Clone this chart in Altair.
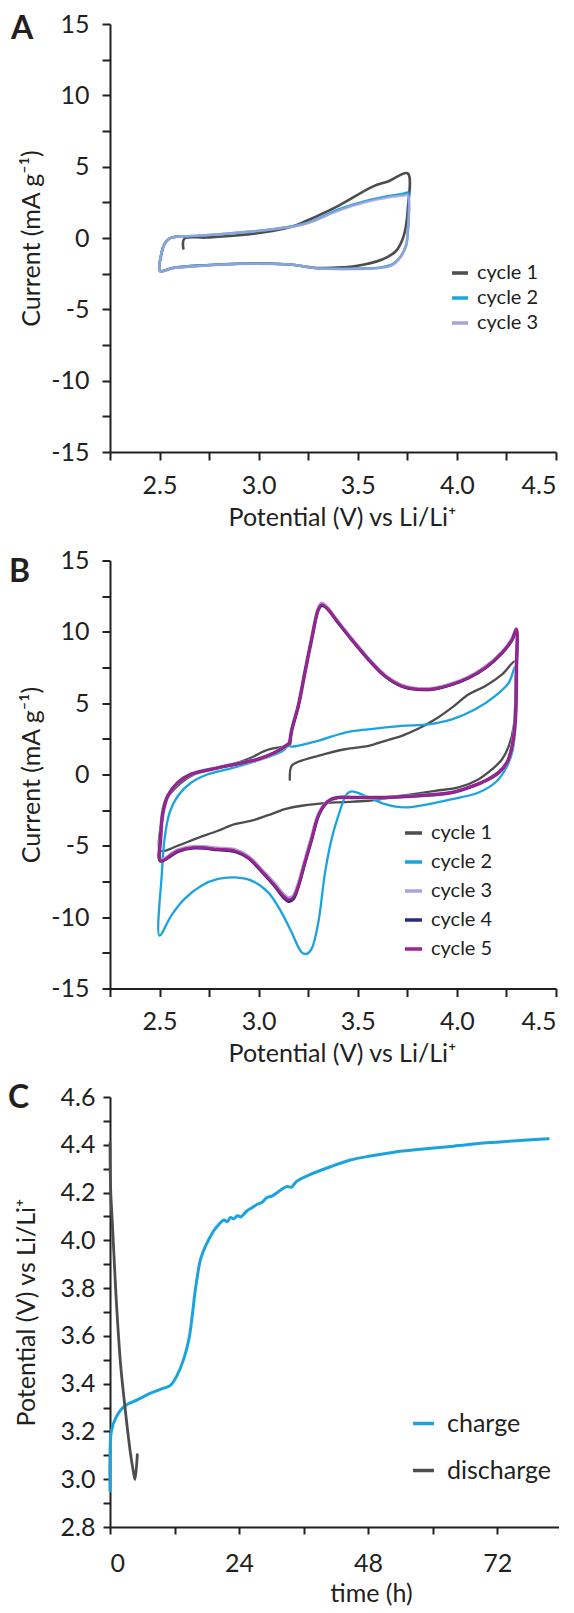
import altair as alt
import pandas as pd

# ---------------- Panel A : CV, 3 cycles ----------------
a_names = ["cycle 1", "cycle 2", "cycle 3"]
a1_v = [2.62, 2.625, 2.735, 2.90, 3.07, 3.17, 3.239, 3.407, 3.575, 3.659,
        3.752, 3.752, 3.743, 3.726, 3.693, 3.626, 3.491, 3.374, 3.29, 3.239,
        3.172, 3.071, 2.902, 2.734, 2.566, 2.502, 2.507, 2.524, 2.549, 2.60]
a1_i = [-0.74, -0.04, 0.03, 0.19, 0.49, 0.80, 1.19, 2.29, 3.60, 4.00,
        4.53, 2.0, 0.84, -0.09, -0.91, -1.49, -1.96, -2.08, -2.10, -2.01,
        -1.87, -1.80, -1.80, -1.91, -2.10, -2.31, -1.26, -0.44, -0.04, 0.10]
a2_v = [2.60, 2.734, 2.902, 3.07, 3.239, 3.407, 3.542, 3.659, 3.735, 3.752,
        3.752, 3.743, 3.718, 3.676, 3.609, 3.491, 3.374, 3.29, 3.239, 3.172,
        3.071, 2.902, 2.734, 2.566, 2.502, 2.507, 2.524, 2.549, 2.60]
a2_i = [0.10, 0.19, 0.38, 0.61, 1.03, 2.01, 2.59, 2.94, 3.11, 3.18,
        0.38, -0.56, -1.26, -1.84, -2.08, -2.15, -2.15, -2.12, -2.01, -1.87,
        -1.80, -1.80, -1.91, -2.10, -2.31, -1.26, -0.44, -0.04, 0.10]
a3_v = [2.60, 2.734, 2.902, 3.07, 3.239, 3.407, 3.542, 3.659, 3.735, 3.752,
        3.752, 3.743, 3.718, 3.676, 3.609, 3.491, 3.374, 3.29, 3.239, 3.172,
        3.071, 2.902, 2.734, 2.566, 2.502, 2.507, 2.524, 2.549, 2.60]
a3_i = [0.10, 0.19, 0.38, 0.61, 1.00, 1.95, 2.52, 2.85, 2.98, 3.00,
        0.38, -0.56, -1.30, -1.88, -2.10, -2.17, -2.17, -2.12, -2.01, -1.87,
        -1.82, -1.82, -1.93, -2.12, -2.33, -1.26, -0.44, -0.04, 0.10]

# ---------------- Panel B : CV, 5 cycles ----------------
b_names = ["cycle 1", "cycle 2", "cycle 3", "cycle 4", "cycle 5"]
b1_v = [3.157, 3.166, 3.20, 3.30, 3.436, 3.554, 3.638, 3.722, 3.807, 3.891,
        3.975, 4.06, 4.144, 4.228, 4.295, 4.296, 4.287, 4.262, 4.228, 4.178,
        4.11, 4.009, 3.891, 3.722, 3.554, 3.385, 3.217, 3.132, 3.048, 2.964,
        2.879, 2.795, 2.677, 2.593, 2.505, 2.508, 2.525, 2.559, 2.61, 2.677,
        2.795, 2.896, 2.964, 3.031, 3.099, 3.157]
b1_i = [-0.37, 0.61, 0.89, 1.31, 1.77, 2.0, 2.36, 2.71, 3.22, 3.87,
        4.69, 5.62, 6.2, 7.02, 7.95, 6.44, 3.4, 2.0, 1.07, 0.37,
        -0.33, -0.91, -1.14, -1.49, -1.84, -1.96, -2.19, -2.43, -2.85, -3.24,
        -3.48, -3.94, -4.53, -4.99, -5.34, -3.36, -1.96, -1.26, -0.56, 0.02,
        0.49, 0.84, 1.19, 1.66, 1.89, 2.0]
b2_v = [3.157, 3.166, 3.30, 3.436, 3.554, 3.722, 3.857, 3.975, 4.093, 4.194,
        4.262, 4.295, 4.298, 4.295, 4.279, 4.245, 4.194, 4.11, 3.975, 3.857,
        3.739, 3.638, 3.537, 3.469, 3.444, 3.402, 3.368, 3.335, 3.301, 3.267,
        3.242, 3.217, 3.166, 3.115, 3.048, 2.964, 2.879, 2.795, 2.711, 2.626,
        2.559, 2.50, 2.512, 2.525, 2.551, 2.593, 2.66, 2.744, 2.846, 2.964,
        3.065, 3.132, 3.157]
b2_i = [2.0, 1.96, 2.36, 2.94, 3.17, 3.41, 3.52, 3.87, 4.57, 5.51,
        6.44, 7.6, 5.97, 3.4, 1.54, 0.37, -0.56, -1.26, -1.73, -2.08,
        -2.31, -2.08, -1.49, -1.19, -1.38, -2.89, -4.53, -6.86, -10.36, -12.22,
        -12.57, -12.46, -11.06, -9.66, -8.26, -7.44, -7.21, -7.32, -7.79, -8.72,
        -9.89, -11.29, -6.86, -4.53, -2.66, -1.49, -0.56, 0.02, 0.37, 0.84,
        1.31, 1.77, 2.52]
b345_v = [3.157, 3.166, 3.20, 3.233, 3.267, 3.301, 3.318, 3.343, 3.402, 3.469,
          3.554, 3.638, 3.722, 3.807, 3.891, 3.975, 4.06, 4.144, 4.228, 4.279,
          4.30, 4.30, 4.295, 4.279, 4.253, 4.211, 4.144, 4.06, 3.975, 3.807,
          3.638, 3.469, 3.402, 3.368, 3.335, 3.301, 3.267, 3.233, 3.20, 3.174,
          3.152, 3.124, 3.082, 3.014, 2.947, 2.879, 2.795, 2.677, 2.593, 2.505,
          2.505, 2.517, 2.542, 2.593, 2.66, 2.761, 2.879, 2.997, 3.082, 3.157]
b3_i = [2.19, 3.06, 4.81, 7.14, 9.47, 11.6, 11.98, 11.72, 10.66, 9.5,
        8.1, 6.93, 6.23, 6.0, 6.05, 6.35, 6.82, 7.52, 8.56, 9.5,
        10.2, 7.14, 3.87, 2.0, 0.84, 0.14, -0.44, -0.91, -1.26, -1.49,
        -1.61, -1.61, -1.61, -1.73, -2.08, -2.85, -4.45, -6.1, -7.7, -8.55,
        -8.68, -8.4, -7.7, -6.68, -5.75, -5.28, -5.18, -5.06, -5.3, -6.0,
        -4.53, -2.66, -1.49, -0.56, 0.02, 0.37, 0.72, 1.07, 1.54, 2.19]
b4_i = [2.19, 3.06, 4.81, 7.14, 9.47, 11.55, 11.85, 11.66, 10.62, 9.45,
        8.05, 6.88, 6.18, 5.95, 6.0, 6.3, 6.77, 7.47, 8.52, 9.45,
        10.15, 7.14, 3.87, 2.0, 0.84, 0.14, -0.44, -0.91, -1.26, -1.49,
        -1.61, -1.61, -1.61, -1.73, -2.08, -2.92, -4.6, -6.22, -7.88, -8.75,
        -8.9, -8.6, -7.85, -6.8, -5.86, -5.4, -5.28, -5.16, -5.4, -6.08,
        -4.53, -2.66, -1.49, -0.56, 0.02, 0.37, 0.72, 1.07, 1.54, 2.19]
b5_i = [2.19, 3.06, 4.81, 7.14, 9.47, 11.57, 11.92, 11.69, 10.64, 9.47,
        8.07, 6.9, 6.2, 5.97, 6.02, 6.32, 6.79, 7.49, 8.54, 9.47,
        10.17, 7.14, 3.87, 2.0, 0.84, 0.14, -0.44, -0.91, -1.26, -1.49,
        -1.61, -1.61, -1.61, -1.73, -2.08, -2.89, -4.53, -6.16, -7.79, -8.61,
        -8.77, -8.49, -7.79, -6.74, -5.81, -5.34, -5.23, -5.11, -5.34, -6.04,
        -4.53, -2.66, -1.49, -0.56, 0.02, 0.37, 0.72, 1.07, 1.54, 2.19]

# ---------------- Panel C : galvanostatic charge / discharge ----------------
c_names = ["charge", "discharge"]
charge_t = [0, 0.0, 0.25, 1.05, 2.6, 5.08, 7.56, 10.0, 11.3, 12.5,
            13.75, 14.7, 15.3, 15.9, 16.85, 17.8, 19.3, 20.0, 20.6, 21.2,
            21.8, 22.4, 23.0, 23.7, 24.3, 25.5, 26.3, 27.4, 28.2, 29.2,
            30.1, 31.1, 32.0, 33.0, 33.7, 34.8, 37.3, 41.0, 44.7, 48.4,
            52.8, 57.7, 63.9, 70.1, 76.3, 81.5]
charge_v = [2.95, 3.10, 3.20, 3.256, 3.304, 3.332, 3.36, 3.381, 3.394, 3.436,
            3.506, 3.589, 3.686, 3.797, 3.922, 3.978, 4.04, 4.06, 4.075, 4.085,
            4.078, 4.096, 4.09, 4.103, 4.098, 4.124, 4.135, 4.151, 4.158, 4.179,
            4.185, 4.20, 4.215, 4.225, 4.222, 4.249, 4.276, 4.308, 4.336, 4.353,
            4.369, 4.381, 4.394, 4.408, 4.418, 4.425]
discharge_t = [0, 0.12, 0.43, 0.74, 1.05, 1.49, 1.98, 2.6, 3.22, 3.84, 4.34, 4.65, 5.08]
discharge_v = [4.408, 4.214, 4.075, 3.936, 3.797, 3.631, 3.478, 3.339, 3.214, 3.103, 3.033, 2.999, 3.103]

# axis tick positions / labels
cv_x_ticks = [2.25, 2.5, 2.75, 3.0, 3.25, 3.5, 3.75, 4.0, 4.25, 4.5]
cv_y_ticks = [-15, -12.5, -10, -7.5, -5, -2.5, 0, 2.5, 5, 7.5, 10, 12.5, 15]
c_x_ticks = [0, 12, 24, 36, 48, 60, 72]
c_y_ticks = [2.8, 2.9, 3.0, 3.1, 3.2, 3.3, 3.4, 3.5, 3.6, 3.7, 3.8, 3.9,
             4.0, 4.1, 4.2, 4.3, 4.4, 4.5, 4.6]

FONT = "Lato"
INK = "#231f20"
GREY = "#4d4d4f"
BLUE = "#1ba3e0"
LAV = "#aaa3d8"
NAVY = "#2b2a7e"
MAG = "#a1228d"
FS = 25


def frame(xs, ys, name, xcol, ycol):
    return pd.DataFrame({xcol: xs, ycol: ys, "series": name, "idx": list(range(len(xs)))})


dfA = pd.concat([frame(a1_v, a1_i, "cycle 1", "v", "i"),
                 frame(a2_v, a2_i, "cycle 2", "v", "i"),
                 frame(a3_v, a3_i, "cycle 3", "v", "i")])
dfB = pd.concat([frame(b1_v, b1_i, "cycle 1", "v", "i"),
                 frame(b2_v, b2_i, "cycle 2", "v", "i"),
                 frame(b345_v, b3_i, "cycle 3", "v", "i"),
                 frame(b345_v, b4_i, "cycle 4", "v", "i"),
                 frame(b345_v, b5_i, "cycle 5", "v", "i")])
dfC = pd.concat([frame(charge_t, charge_v, "charge", "t", "p"),
                 frame(discharge_t, discharge_v, "discharge", "t", "p")])


def cv_axes():
    x = alt.X("v:Q", scale=alt.Scale(domain=[2.25, 4.5], nice=False, zero=False),
              axis=alt.Axis(values=cv_x_ticks, title="Potential (V) vs Li/Li⁺",
                            labelExpr="(datum.value * 2) % 1 == 0 ? format(datum.value, '.1f') : ''",
                            labelPadding=13, titlePadding=7, titleX=232, labelOverlap=False))
    y = alt.Y("i:Q", scale=alt.Scale(domain=[-15, 15], nice=False),
              axis=alt.Axis(values=cv_y_ticks, title="Current (mA g⁻¹)",
                            labelExpr="datum.value % 5 == 0 ? toString(datum.value) : ''",
                            labelPadding=13, titleX=-66, labelOverlap=False))
    return x, y


def panel(df, names, colors, widths, opac, x, y, legend, letter, letter_offset, letter_dx, w, h):
    color = alt.Color("series:N", scale=alt.Scale(domain=names, range=colors), legend=legend)
    layers = []
    for n, sw, op in zip(names, widths, opac):
        layers.append(
            alt.Chart(df).transform_filter(alt.datum.series == n)
            .mark_line(strokeWidth=sw, opacity=op, strokeJoin="round", strokeCap="round",
                       interpolate="catmull-rom")
            .encode(x=x, y=y, color=color, order=alt.Order("idx:Q"))
        )
    return alt.layer(*layers).properties(
        width=w, height=h,
        title=alt.TitleParams(letter, anchor="start", frame="bounds", offset=letter_offset,
                              fontSize=32, fontWeight="bold", font=FONT, color=INK, dx=letter_dx))


def legend(x, y, font, size, pad, off):
    return alt.Legend(title=None, orient="none", legendX=x, legendY=y, padding=0,
                      labelFont=FONT, labelFontSize=font, labelColor=INK,
                      symbolType="stroke", symbolSize=size, symbolStrokeWidth=3.5,
                      rowPadding=pad, labelOffset=off)


xa, ya = cv_axes()
chartA = panel(dfA, a_names, [GREY, BLUE, LAV], [2.6, 2.6, 2.6], [1, 1, 0.8], xa, ya,
               legend(340, 239, 20, 256, 5, 7), "A", -34, -8, 446, 428)

xb, yb = cv_axes()
chartB = panel(dfB, b_names, [GREY, BLUE, LAV, NAVY, MAG], [2.3, 2.3, 4, 3, 2.6], [1, 1, 1, 1, 1],
               xb, yb, legend(293, 262, 20, 289, 8, 7), "B", -40, -10, 446, 428)

xc = alt.X("t:Q", scale=alt.Scale(domain=[0, 83.5], nice=False),
           axis=alt.Axis(values=c_x_ticks, title="time (h)", tickSize=7,
                         labelExpr="datum.value % 24 == 0 ? toString(datum.value) : ''",
                         labelPadding=17, titlePadding=5, titleX=261, labelOverlap=False))
yc = alt.Y("p:Q", scale=alt.Scale(domain=[2.8, 4.6], nice=False, zero=False),
           axis=alt.Axis(values=c_y_ticks, title="Potential (V) vs Li/Li⁺", tickSize=7,
                         labelExpr="round(datum.value * 10) % 2 == 0 ? format(datum.value, '.1f') : ''",
                         labelPadding=8, titleX=-71, labelOverlap=False))
chartC = panel(dfC, c_names, [BLUE, GREY], [3, 2.8], [1, 1], xc, yc,
               legend(301, 314, 25, 441, 21, 11), "C", -30, -6, 449, 430)

chart = (
    alt.vconcat(chartA, chartB, chartC, spacing=108.5, bounds="flush")
    .resolve_scale(color="independent", x="independent", y="independent")
    .properties(padding={"left": 0, "top": 4, "right": 0, "bottom": 0})
    .configure_view(stroke=None)
    .configure_axis(domainColor=INK, domainWidth=2, tickColor=INK, tickWidth=2, tickSize=8,
                    labelFont=FONT, labelFontSize=FS, labelColor=INK,
                    titleFont=FONT, titleFontSize=FS, titleFontWeight="normal", titleColor=INK,
                    grid=False)
)

chart.save("out.html", embed_options={"renderer": "svg", "actions": False})
